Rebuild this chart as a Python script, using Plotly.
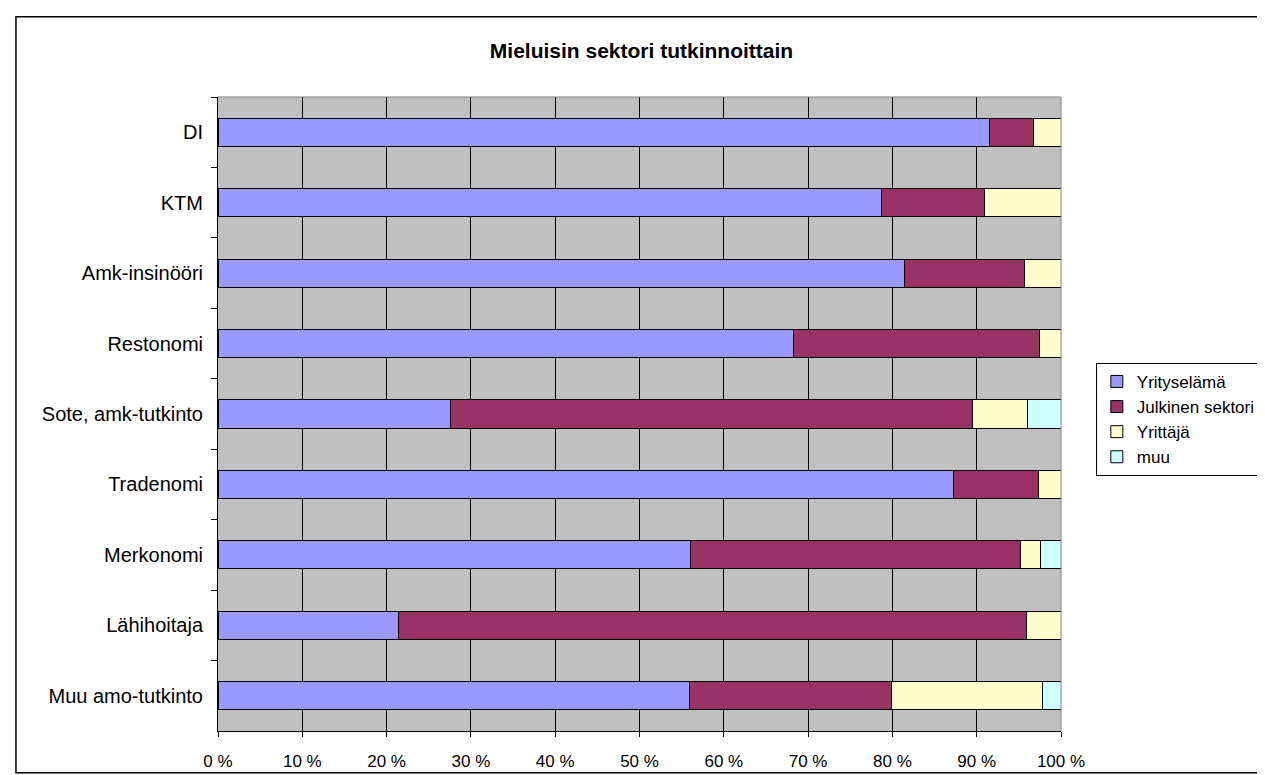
import plotly.graph_objects as go

# Data (percent of respondents per degree)
degrees = [
    "DI", "KTM", "Amk-insinööri", "Restonomi", "Sote, amk-tutkinto",
    "Tradenomi", "Merkonomi", "Lähihoitaja", "Muu amo-tutkinto",
]
yritys = [91.5, 78.7, 81.4, 68.3, 27.6, 87.3, 56.0, 21.4, 55.9]
julkinen = [5.2, 12.2, 14.3, 29.1, 61.9, 10.0, 39.2, 74.5, 24.0]
yrittaja = [3.3, 9.1, 4.3, 2.6, 6.5, 2.7, 2.4, 4.1, 17.9]
muu = [None, None, None, None, 4.0, None, 2.4, None, 2.2]

series_names = ["Yrityselämä", "Julkinen sektori", "Yrittäjä", "muu"]
x_ticks = [0, 10, 20, 30, 40, 50, 60, 70, 80, 90, 100]
x_ticklabels = ["0 %", "10 %", "20 %", "30 %", "40 %", "50 %",
                "60 %", "70 %", "80 %", "90 %", "100 %"]

COLORS = ["#9999FF", "#993366", "#FFFFCC", "#CCFFFF"]
FONT = "Liberation Sans, Arial, sans-serif"

W, H = 1265, 775
L, R, T, B = 210, 1057, 89, 728   # plot area in pixels


def px_x(p):
    return (p - L) / (R - L)


def px_y(p):
    return (B - p) / (B - T)


fig = go.Figure()

for i, (name, vals) in enumerate(zip(series_names, [yritys, julkinen, yrittaja, muu])):
    fig.add_trace(go.Bar(
        y=degrees,
        x=vals,
        name=name,
        orientation="h",
        width=0.4,
        legendgroup=name,
        marker=dict(color=COLORS[i], line=dict(color="#000000", width=1)),
    ))

fig.update_layout(
    width=W,
    height=H,
    barmode="stack",
    title=dict(
        text="<b>Mieluisin sektori tutkinnoittain</b>",
        font=dict(family=FONT, size=21, color="#000000"),
        x=(L + R) / 2 / W,
        xanchor="center",
        y=1 - 43 / H,
        yanchor="middle",
    ),
    xaxis=dict(
        range=[0, 100],
        tickvals=x_ticks,
        ticktext=x_ticklabels,
        showgrid=True,
        gridcolor="#000000",
        gridwidth=1,
        showline=True,
        linecolor="#000000",
        linewidth=1,
        ticks="outside",
        ticklen=5,
        tickcolor="#000000",
        ticklabelstandoff=10,
        tickfont=dict(family=FONT, size=17, color="#000000"),
        zeroline=False,
        fixedrange=True,
    ),
    yaxis=dict(
        categoryorder="array",
        categoryarray=degrees,
        autorange="reversed",
        showgrid=False,
        showline=True,
        linecolor="#000000",
        linewidth=1,
        ticks="outside",
        tickson="boundaries",
        ticklen=6,
        tickcolor="#000000",
        ticklabelstandoff=10,
        tickfont=dict(family=FONT, size=20, color="#000000"),
        fixedrange=True,
    ),
    legend=dict(
        x=px_x(1092),
        xanchor="left",
        y=px_y(357),
        yanchor="top",
        bgcolor="#FFFFFF",
        bordercolor="#000000",
        borderwidth=1,
        tracegroupgap=0,
        itemwidth=30,
        font=dict(family=FONT, size=17, color="#000000"),
    ),
    margin=dict(l=L, r=W - R, t=T, b=H - B),
    paper_bgcolor="#FFFFFF",
    plot_bgcolor="#C0C0C0",
    showlegend=True,
)

# gray plot-area edge on top and right
fig.add_shape(type="line", xref="paper", yref="paper", x0=0, x1=1, y0=1, y1=1,
              line=dict(color="#808080", width=1))
fig.add_shape(type="line", xref="paper", yref="paper", x0=1, x1=1, y0=0, y1=1,
              line=dict(color="#808080", width=1))

# outer chart frame
fig.add_shape(type="rect", xref="paper", yref="paper",
              x0=px_x(7), x1=px_x(1259), y0=px_y(770), y1=px_y(8),
              line=dict(color="#000000", width=1.5), fillcolor="rgba(0,0,0,0)")

fig.write_html("out.html")
